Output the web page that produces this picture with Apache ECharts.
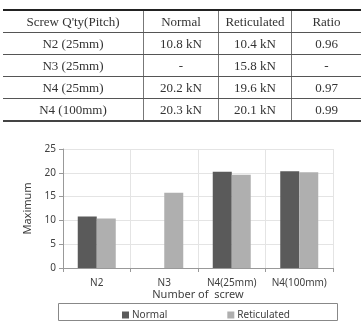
<!DOCTYPE html>
<html>
<head>
<meta charset="utf-8">
<script src="https://cdn.jsdelivr.net/npm/echarts@6/dist/echarts.min.js"></script>
<style>
  html, body { margin: 0; padding: 0; background: #fff; }
  #wrap { position: relative; width: 362px; height: 323px; }
  #chart { position: absolute; left: 0; top: 0; width: 362px; height: 323px; }
  #tbl {
    position: absolute; left: 3px; top: 9px; width: 355px;
    border-collapse: collapse; table-layout: fixed;
    font-family: 'Times New Roman', 'Liberation Serif', 'DejaVu Serif', serif; font-size: 13px; color: #333;
    border-top: 2px solid #222; border-bottom: 2px solid #444;
  }
  #tbl td { height: 21px; padding: 0; text-align: center; border-bottom: 1px solid #555; border-left: 1px solid #777; line-height: 21px; }
  #tbl td:first-child { border-left: none; }
</style>
</head>
<body>
<div id="wrap">
  <div id="chart"></div>
  <table id="tbl"></table>
</div>
<script>
// table contents
const tableHeader = ["Screw Q'ty(Pitch)", 'Normal', 'Reticulated', 'Ratio'];
const tableScrews = ['N2 (25mm)', 'N3 (25mm)', 'N4 (25mm)', 'N4 (100mm)'];
const tableNormal = ['10.8 kN', '-', '20.2 kN', '20.3 kN'];
const tableReticulated = ['10.4 kN', '15.8 kN', '19.6 kN', '20.1 kN'];
const tableRatio = ['0.96', '-', '0.97', '0.99'];
const colWidths = [140, 74, 72, 69];

// chart data
const categories = ['N2', 'N3', 'N4(25mm)', 'N4(100mm)'];
const normalValues = [10.8, null, 20.2, 20.3];
const reticulatedValues = [10.4, 15.8, 19.6, 20.1];

// build table
const tbl = document.getElementById('tbl');
const rows = [tableHeader].concat(tableScrews.map((s, i) => [s, tableNormal[i], tableReticulated[i], tableRatio[i]]));
rows.forEach((r) => {
    const tr = document.createElement('tr');
    r.forEach((c, j) => {
        const td = document.createElement('td');
        td.textContent = c;
        td.style.width = colWidths[j] + 'px';
        tr.appendChild(td);
    });
    tbl.appendChild(tr);
});

const chart = echarts.init(document.getElementById('chart'));
const textColor = '#404040';
chart.setOption({
    animation: false,
    textStyle: { fontFamily: 'Noto Sans, sans-serif' },
    grid: { left: 63, right: 29, top: 149, bottom: 55 },
    legend: {
        left: 117, top: 305, itemGap: 60,
        itemWidth: 7, itemHeight: 7, icon: 'rect',
        textStyle: { fontSize: 10, color: textColor, padding: [0, 0, 0, -2] },
        data: ['Normal', 'Reticulated']
    },
    graphic: [{
        type: 'rect',
        shape: { x: 58.5, y: 303.5, width: 279, height: 17 },
        style: { fill: 'none', stroke: '#888', lineWidth: 1 },
        z: -1
    }],
    xAxis: {
        type: 'category',
        data: categories,
        name: 'Number of  screw',
        nameLocation: 'middle',
        nameGap: 21,
        nameTextStyle: { fontSize: 11, color: textColor },
        axisLine: { lineStyle: { color: '#999' } },
        axisTick: { show: true, length: 4, interval: 0, lineStyle: { color: '#999' } },
        axisLabel: { fontSize: 10, color: textColor, margin: 10, interval: 0 },
        splitLine: { show: true, interval: 0, lineStyle: { color: '#e4e4e4' } }
    },
    yAxis: {
        type: 'value',
        min: 0, max: 25, interval: 5,
        name: 'Maximum',
        nameLocation: 'middle',
        nameGap: 21,
        nameTextStyle: { fontSize: 11, color: textColor },
        axisLine: { show: true, lineStyle: { color: '#999' } },
        axisTick: { show: true, length: 4, lineStyle: { color: '#999' } },
        axisLabel: { fontSize: 10, color: textColor, margin: 7 },
        splitLine: { show: true, lineStyle: { color: '#e4e4e4' } }
    },
    series: [
        {
            name: 'Normal', type: 'bar', data: normalValues,
            barWidth: 19, barGap: '0%',
            itemStyle: { color: '#5a5a5a' }
        },
        {
            name: 'Reticulated', type: 'bar', data: reticulatedValues,
            barWidth: 19,
            itemStyle: { color: '#afafaf' }
        }
    ]
});
</script>
</body>
</html>
